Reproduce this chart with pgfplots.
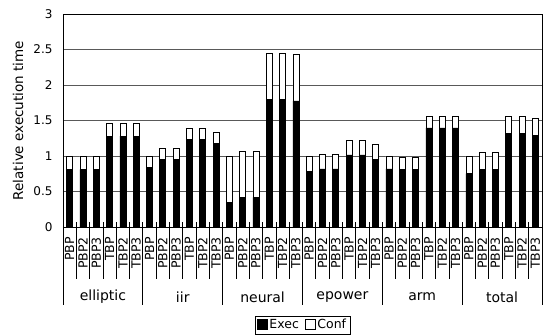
\documentclass[border=0pt]{standalone}
\usepackage{fontspec}
\setmainfont{DejaVu Sans}
\usepackage{pgfplots}
\pgfplotsset{compat=1.18}
\usepackage{pgfplotstable}

\pgfplotstableread{
x exec conf
0  0.810 0.190
1  0.810 0.190
2  0.810 0.190
3  1.280 0.187
4  1.280 0.187
5  1.280 0.187
6  0.840 0.160
7  0.954 0.160
8  0.954 0.160
9  1.236 0.151
10 1.236 0.151
11 1.175 0.155
12 0.343 0.657
13 0.418 0.654
14 0.418 0.654
15 1.796 0.653
16 1.796 0.653
17 1.777 0.653
18 0.785 0.215
19 0.818 0.207
20 0.818 0.207
21 1.016 0.206
22 1.016 0.206
23 0.954 0.207
24 0.818 0.182
25 0.809 0.174
26 0.809 0.174
27 1.396 0.170
28 1.396 0.170
29 1.396 0.170
30 0.752 0.248
31 0.809 0.239
32 0.809 0.239
33 1.321 0.240
34 1.321 0.240
35 1.293 0.240
}\data

\begin{document}
\begin{tikzpicture}
\begin{axis}[
  at={(0,0)}, anchor=south west,
  scale only axis, width=479pt, height=213pt,
  ybar stacked, bar width=6pt,
  xmin=-0.5, xmax=35.5, ymin=0, ymax=3,
  ytick={0,0.5,1,1.5,2,2.5,3},
  yticklabels={0,0.5,1,1.5,2,2.5,3},
  ymajorgrids, grid style={draw=black!65, line width=0.8pt},
  axis line style={black, line width=0.9pt},
  ytick style={draw=none},
  yticklabel style={font=\fontsize{12}{13}\selectfont},
  yticklabel shift=7pt,
  xtick={0,...,35},
  xticklabels={PBP,PBP2,PBP3,TBP,TBP2,TBP3,PBP,PBP2,PBP3,TBP,TBP2,TBP3,PBP,PBP2,PBP3,TBP,TBP2,TBP3,PBP,PBP2,PBP3,TBP,TBP2,TBP3,PBP,PBP2,PBP3,TBP,TBP2,TBP3,PBP,PBP2,PBP3,TBP,TBP2,TBP3},
  xticklabel style={rotate=90, anchor=east, inner sep=0pt, font=\fontsize{12.5}{13}\selectfont},
  xticklabel shift=10pt,
  xtick style={draw=none},
  ylabel={Relative execution time},
  ylabel style={at={(axis description cs:-0.094,0.5)}, anchor=center, font=\fontsize{13.5}{14}\selectfont},
  /pgf/number format/assume math mode=true,
  clip=false,
  legend columns=2,
  legend style={at={(axis description cs:0.5,-0.46)}, anchor=center, draw=black, line width=0.8pt,
    font=\fontsize{12.5}{13}\selectfont, inner xsep=2pt, inner ysep=1.5pt,
    /tikz/every even column/.append style={column sep=4pt}},
  after end axis/.code={
    \foreach \xx in {0.5,1.5,...,34.5} {
      \draw[black, line width=0.7pt] ([yshift=5pt]axis cs:\xx,0) -- ([yshift=-52pt]axis cs:\xx,0);
    }
    \foreach \xx in {-0.5,5.5,11.5,17.5,23.5,29.5,35.5} {
      \draw[black, line width=0.9pt] (axis cs:\xx,0) -- ([yshift=-78pt]axis cs:\xx,0);
    }
    \node[font=\fontsize{14}{15}\selectfont] at ([yshift=-70pt]axis cs:2.5,0) {elliptic};
    \node[font=\fontsize{14}{15}\selectfont] at ([yshift=-70pt]axis cs:8.5,0) {iir};
    \node[font=\fontsize{14}{15}\selectfont] at ([yshift=-70pt]axis cs:14.5,0) {neural};
    \node[font=\fontsize{14}{15}\selectfont] at ([yshift=-70pt]axis cs:20.5,0) {epower};
    \node[font=\fontsize{14}{15}\selectfont] at ([yshift=-70pt]axis cs:26.5,0) {arm};
    \node[font=\fontsize{14}{15}\selectfont] at ([yshift=-70pt]axis cs:32.5,0) {total};
  },
]
\addplot[fill=black, draw=black, line width=0.6pt,
  legend image code/.code={\draw[fill=black, draw=black, line width=0.5pt] (0pt,-4.5pt) rectangle (10pt,5.5pt);}]
  table[x=x, y=exec] {\data};
\addlegendentry{Exec}
\addplot[fill=white, draw=black, line width=0.6pt,
  legend image code/.code={\draw[fill=white, draw=black, line width=0.5pt] (0pt,-4.5pt) rectangle (10pt,5.5pt);}]
  table[x=x, y=conf] {\data};
\addlegendentry{Conf}
\end{axis}
\pgfresetboundingbox
\path[use as bounding box] (-63pt,-107pt) rectangle (482pt,227pt);
\end{tikzpicture}
\end{document}
